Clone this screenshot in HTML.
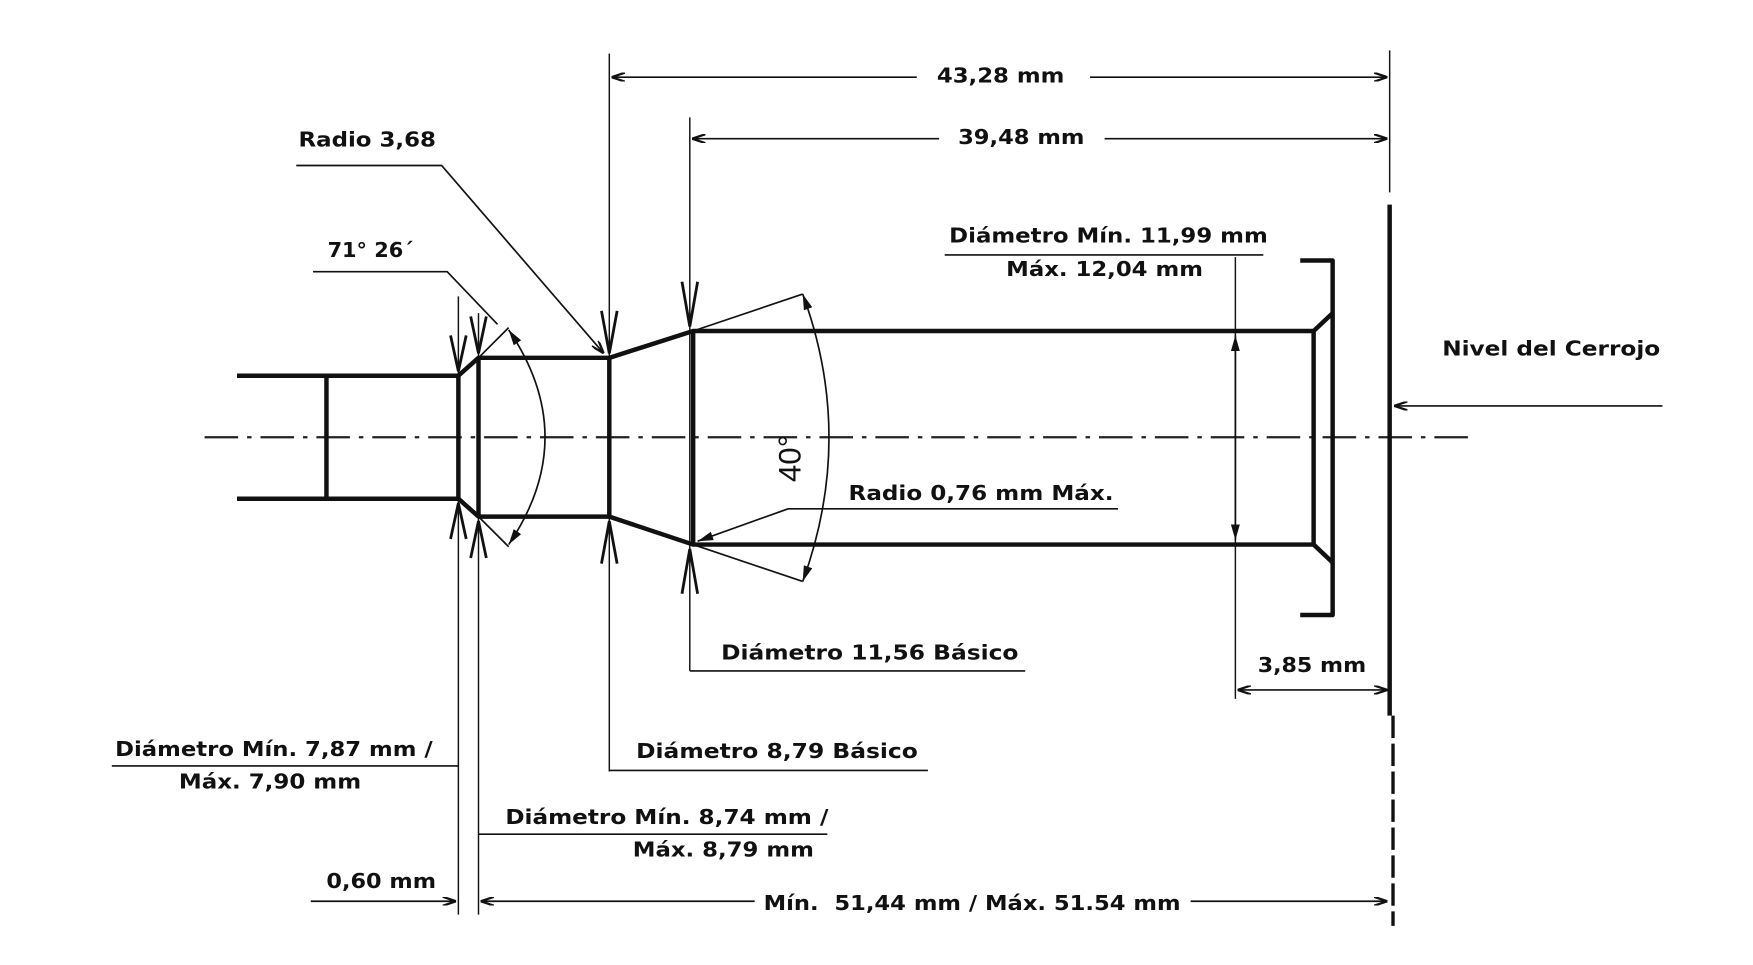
<!DOCTYPE html>
<html><head><meta charset="utf-8"><style>
html,body{margin:0;padding:0;background:#fff;}
svg{display:block;}
text{font-family:"DejaVu Sans","Liberation Sans",sans-serif;font-weight:bold;font-size:18px;fill:#111;}
</style></head><body>
<svg width="1753" height="965" viewBox="0 0 1568 863" preserveAspectRatio="none" xmlns="http://www.w3.org/2000/svg">
<defs>
<marker id="a" viewBox="0 0 12 8" refX="12" refY="4" markerWidth="12" markerHeight="8" orient="auto-start-reverse" markerUnits="userSpaceOnUse"><path d="M0,0 L12,4 L0,8" fill="none" stroke="#111" stroke-width="2"/></marker>
<marker id="f" viewBox="0 0 14 8" refX="14" refY="4" markerWidth="14" markerHeight="8" orient="auto-start-reverse" markerUnits="userSpaceOnUse"><path d="M0,0 L14,4 L0,8z" fill="#111"/></marker>
</defs>
<rect width="1568" height="863" fill="#fff"/>
<line x1="183" y1="391" x2="1315" y2="391" stroke="#222" stroke-width="2" stroke-dasharray="30,8,4,8"/>
<g stroke="#111" stroke-width="4" fill="none" stroke-linejoin="round">
<path d="M212,336 H410 L428,320 H545 L620,296 H1175 L1192,280"/>
<path d="M212,446 H410 L428,462 H545 L620,487 H1175 L1192,503"/>
<line x1="292" y1="336" x2="292" y2="446"/>
<line x1="410" y1="336" x2="410" y2="446"/>
<line x1="428" y1="320" x2="428" y2="462"/>
<line x1="545" y1="320" x2="545" y2="462"/>
<line x1="620" y1="296" x2="620" y2="487"/>
<line x1="1175" y1="296" x2="1175" y2="487"/>
<path d="M1163,233 H1192 V550 H1163"/>
<line x1="1243" y1="183" x2="1243" y2="640"/>
</g>
<line x1="1246" y1="640" x2="1246" y2="828" stroke="#111" stroke-width="3" stroke-dasharray="20,5"/>
<g stroke="#111" stroke-width="1.3">
<line x1="545" y1="48" x2="545" y2="690"/>
<line x1="617" y1="105" x2="617" y2="600"/>
<line x1="410" y1="265" x2="410" y2="818"/>
<line x1="428" y1="280" x2="428" y2="818"/>
<line x1="1105" y1="230" x2="1105" y2="625"/>
<line x1="1243" y1="45" x2="1243" y2="172"/>
</g>
<g stroke="#111" stroke-width="1.5" fill="none">
<line x1="547" y1="69" x2="820" y2="69" marker-start="url(#a)"/>
<line x1="975" y1="69" x2="1241" y2="69" marker-end="url(#a)"/>
<line x1="619" y1="124" x2="840" y2="124" marker-start="url(#a)"/>
<line x1="988" y1="124" x2="1241" y2="124" marker-end="url(#a)"/>
<line x1="1107" y1="617" x2="1241" y2="617" marker-start="url(#a)" marker-end="url(#a)"/>
<line x1="430" y1="806" x2="675" y2="806" marker-start="url(#a)"/>
<line x1="1065" y1="806" x2="1241" y2="806" marker-end="url(#a)"/>
<line x1="278" y1="806" x2="408" y2="806" marker-end="url(#a)"/>
<line x1="1105" y1="300" x2="1105" y2="483" marker-start="url(#f)" marker-end="url(#f)"/>
<line x1="1487" y1="363" x2="1247" y2="363" marker-end="url(#a)"/>
<path d="M455,295 Q520,391 455,487" marker-start="url(#f)" marker-end="url(#f)"/>
<path d="M718,263 Q765,391 718,520" marker-start="url(#f)" marker-end="url(#f)"/>
<line x1="620" y1="296" x2="718" y2="263"/>
<line x1="620" y1="487" x2="718" y2="520"/>
<line x1="428" y1="320" x2="455" y2="293"/>
<line x1="428" y1="462" x2="455" y2="489"/>
<polyline points="265,148 395,148 540,316" marker-end="url(#a)"/>
<polyline points="280,243 400,243 445,290"/>
<polyline points="1000,455 705,455 624,484" marker-end="url(#f)"/>
<line x1="845" y1="228" x2="1130" y2="228"/>
<line x1="617" y1="600" x2="917" y2="600"/>
<line x1="545" y1="689" x2="830" y2="689"/>
<line x1="100" y1="685" x2="410" y2="685"/>
<line x1="428" y1="746" x2="740" y2="746"/>
</g>
<g stroke="#111" stroke-width="2.5" fill="none">
<path d="M403,300 L410,332 L417,300"/><path d="M403,482 L410,450 L417,482"/>
<path d="M421,283 L428,316 L435,283"/><path d="M421,499 L428,466 L435,499"/>
<path d="M538,278 L545,316 L552,278"/><path d="M538,504 L545,466 L552,504"/>
<path d="M610,252 L617,292 L624,252"/><path d="M610,531 L617,491 L624,531"/>
</g>
<text x="838" y="74" textLength="114" lengthAdjust="spacingAndGlyphs">43,28 mm</text>
<text x="857" y="129" textLength="113" lengthAdjust="spacingAndGlyphs">39,48 mm</text>
<text x="267" y="131" textLength="123" lengthAdjust="spacingAndGlyphs">Radio 3,68</text>
<text x="293" y="230" textLength="77" lengthAdjust="spacingAndGlyphs">71° 26´</text>
<text x="849" y="217" textLength="285" lengthAdjust="spacingAndGlyphs">Diámetro Mín. 11,99 mm</text>
<text x="900" y="247" textLength="176" lengthAdjust="spacingAndGlyphs">Máx. 12,04 mm</text>
<text x="1290" y="318" textLength="195" lengthAdjust="spacingAndGlyphs">Nivel del Cerrojo</text>
<text x="759" y="447" textLength="237" lengthAdjust="spacingAndGlyphs">Radio 0,76 mm Máx.</text>
<text x="645" y="590" textLength="266" lengthAdjust="spacingAndGlyphs">Diámetro 11,56 Básico</text>
<text x="1125" y="601" textLength="97" lengthAdjust="spacingAndGlyphs">3,85 mm</text>
<text x="569" y="678" textLength="252" lengthAdjust="spacingAndGlyphs">Diámetro 8,79 Básico</text>
<text x="103" y="676" textLength="284" lengthAdjust="spacingAndGlyphs">Diámetro Mín. 7,87 mm /</text>
<text x="160" y="705" textLength="163" lengthAdjust="spacingAndGlyphs">Máx. 7,90 mm</text>
<text x="452" y="737" textLength="289" lengthAdjust="spacingAndGlyphs">Diámetro Mín. 8,74 mm /</text>
<text x="566" y="766" textLength="162" lengthAdjust="spacingAndGlyphs">Máx. 8,79 mm</text>
<text x="292" y="794" textLength="98" lengthAdjust="spacingAndGlyphs">0,60 mm</text>
<text x="683" y="814" textLength="373" lengthAdjust="spacingAndGlyphs" xml:space="preserve">Mín.  51,44 mm / Máx. 51.54 mm</text>
<text x="0" y="0" transform="translate(716,410) rotate(-90)" text-anchor="middle" style="font-family:'Liberation Sans Narrow','Liberation Sans',sans-serif;font-weight:normal;font-size:28px">40°</text>
</svg>
</body></html>
